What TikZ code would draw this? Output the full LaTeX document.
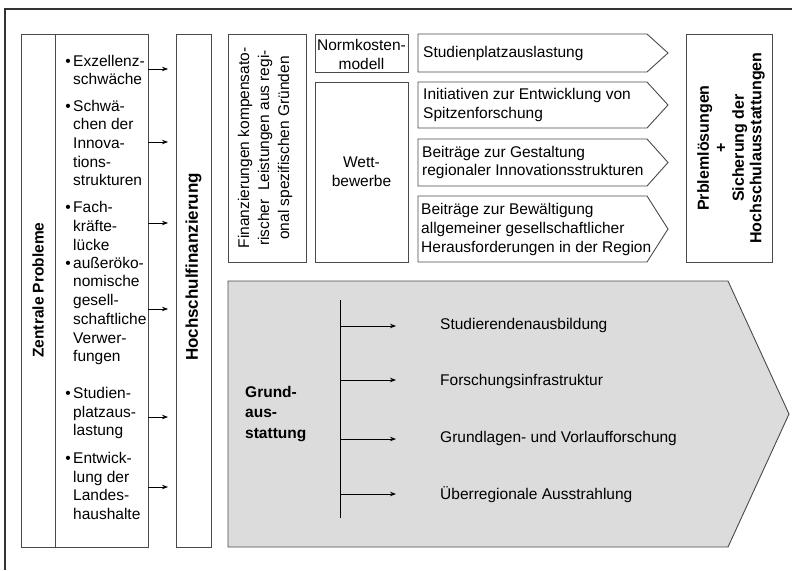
\documentclass[tikz,border=0pt]{standalone}
\usepackage{fontspec}
\setmainfont{Liberation Sans}
\usetikzlibrary{arrows.meta}
\definecolor{boxline}{HTML}{4A4A4A}
\definecolor{frameline}{HTML}{333333}
\definecolor{grayfill}{HTML}{DCDCDC}
\tikzset{
  boxstyle/.style={draw=boxline, line width=0.9pt, inner sep=0pt},
  normtext/.style={font=\fontsize{15.5}{18.7}\selectfont, inner sep=0pt},
  boldtext/.style={font=\bfseries\fontsize{15.5}{20.5}\selectfont, inner sep=0pt},
  arr/.style={draw=black, line width=0.8pt, -{Stealth[length=6pt,width=4.5pt]}},
  shapeline/.style={draw=boxline, line width=0.9pt, line join=miter}
}
\begin{document}
\begin{tikzpicture}[x=1pt,y=-1pt]
\useasboundingbox (0,0) rectangle (792,570);
% outer frame
\coordinate (ftl) at (5,9);
\coordinate (ftr) at (792,9);
\coordinate (fbl) at (5,570);
\draw[frameline, line width=1.4pt] (fbl) -- (ftl) -- (ftr);

% left boxes
\node[boxstyle, minimum width=34.5, minimum height=513] (zp) at (38.25,290.5) {};
\node[boldtext, rotate=90] (zptext) at (38,290) {Zentrale Probleme};
\node[boxstyle, minimum width=92.5, minimum height=513] (lst) at (101.75,290.5) {};
\node[boxstyle, minimum width=35, minimum height=513] (hf) at (193.5,290.5) {};
\node[boldtext, font=\bfseries\fontsize{17}{20}\selectfont, rotate=90] (hftext) at (193.5,267) {Hochschulfinanzierung};

% list items
\tikzset{item/.style={normtext, anchor=west, align=left}}
\newcommand{\bul}{\makebox[0pt][r]{•\hspace{2.5pt}}}
\node[item] (i1) at (73,70) {\bul Exzellenz-\\schwäche};
\node[item] (i2) at (73,143) {\bul Schwä-\\chen der\\Innova-\\tions-\\strukturen};
\node[item] (i3) at (73,226) {\bul Fach-\\kräfte-\\lücke};
\node[item] (i4) at (73,311) {\bul außeröko-\\nomische\\gesell-\\schaftliche\\Verwer-\\fungen};
\node[item] (i5) at (73,413) {\bul Studien-\\platzaus-\\lastung};
\node[item] (i6) at (73,486) {\bul Entwick-\\lung der\\Landes-\\haushalte};

% arrows list -> Hochschulfinanzierung
\foreach \yy [count=\k] in {69,142,223,309,417,487} {
  \coordinate (ae\k) at (168,\yy);
  \draw[arr] (lst.east |- ae\k) -- (ae\k);
}

% Finanzierungen box
\node[boxstyle, minimum width=78, minimum height=228] (fin) at (267,148) {};
\node[normtext, rotate=90, align=center, font=\fontsize{15.5}{20}\selectfont] (fintext) at (265,148)
  {Finanzierungen kompensato-\\rischer\ \ Leistungen aus regi-\\onal spezifischen Gründen};

% Normkosten / Wettbewerbe
\node[boxstyle, minimum width=93, minimum height=38] (nk) at (361.5,53) {};
\node[normtext, align=center] (nktext) at (361.5,54.5) {Normkosten-\\modell};
\node[boxstyle, minimum width=93, minimum height=180] (wb) at (361.5,172) {};
\node[normtext, align=center] (wbtext) at (361.5,172) {Wett-\\bewerbe};

% arrow-shaped boxes
\draw[shapeline] (418,34) -- (647,34) -- (668,53) -- (647,72) -- (418,72) -- cycle;
\draw[shapeline] (418,82) -- (647,82) -- (668,105) -- (647,128) -- (418,128) -- cycle;
\draw[shapeline] (418,139) -- (647,139) -- (668,162.5) -- (647,186) -- (418,186) -- cycle;
\draw[shapeline] (418,196) -- (647,196) -- (668,229) -- (647,262) -- (418,262) -- cycle;
\tikzset{btext/.style={normtext, anchor=west, align=left}}
\node[btext] (b1) at (423,53) {Studienplatzauslastung};
\node[btext] (b2) at (423,105) {Initiativen zur Entwicklung von\\Spitzenforschung};
\node[btext] (b3) at (422,162.5) {Beiträge zur Gestaltung\\regionaler Innovationsstrukturen};
\node[btext] (b4) at (421,229.5) {Beiträge zur Bewältigung\\allgemeiner gesellschaftlicher\\Herausforderungen in der Region};

% Problemlösungen box
\node[boxstyle, minimum width=86, minimum height=228] (pl) at (729,148) {};
\node[boldtext, font=\bfseries\fontsize{16}{17.5}\selectfont, rotate=90, align=center] (pltext) at (731,148)
  {Prblemlösungen\\+\\Sicherung der\\Hochschulausstattungen};

% Grundausstattung shape
\draw[shapeline, fill=grayfill] (228,281) -- (728,281) -- (789,414) -- (728,547) -- (228,547) -- cycle;
\node[boldtext, anchor=west, align=left] (ga) at (245,414) {Grund-\\aus-\\stattung};
\coordinate (vt) at (340,300);
\coordinate (vb) at (340,518);
\draw[black, line width=0.8pt] (vt) -- (vb);
\node[normtext, anchor=west] (g1) at (440,325) {Studierendenausbildung};
\node[normtext, anchor=west] (g2) at (440,381) {Forschungsinfrastruktur};
\node[normtext, anchor=west] (g3) at (440,438) {Grundlagen- und Vorlaufforschung};
\node[normtext, anchor=west] (g4) at (440,495) {Überregionale Ausstrahlung};
\foreach \yy [count=\k] in {326,380,439,494} {
  \coordinate (gs\k) at (340,\yy);
  \coordinate (ge\k) at (396,\yy);
  \draw[arr] (gs\k) -- (ge\k);
}
\end{tikzpicture}
\end{document}
